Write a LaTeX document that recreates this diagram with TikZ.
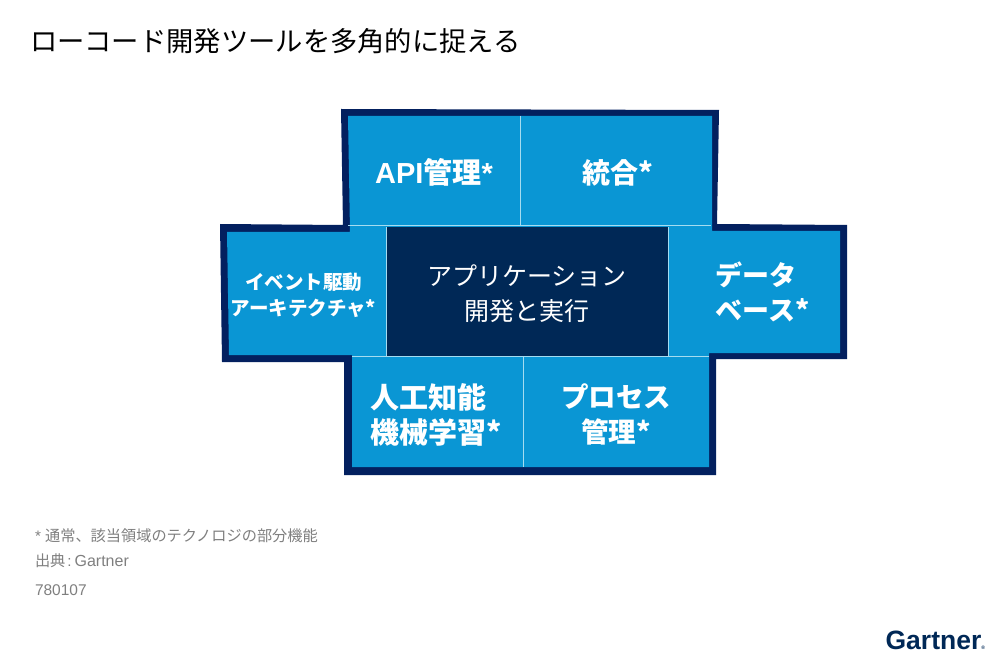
\documentclass[tikz,border=0pt]{standalone}
\usepackage{fontspec}
\setmainfont{Liberation Sans}
\newfontfamily\cjk{Noto Sans CJK JP}
\usetikzlibrary{positioning}
\definecolor{framenavy}{HTML}{03205F}
\definecolor{corenavy}{HTML}{002856}
\definecolor{panelblue}{HTML}{0A96D4}
\definecolor{sepblue}{HTML}{A5DCF0}
\definecolor{notegray}{HTML}{7F7F7F}
\newcommand{\fsz}[2]{\fontsize{#1}{#2}\selectfont}
\newcommand{\drop}[1]{\rule{0pt}{#1pt}}

\begin{document}
\begin{tikzpicture}[x=1pt,y=-1pt,inner sep=0pt,outer sep=0pt]
	  \tikzstyle{panel}=[text=white,align=center,minimum height=110pt]
	  \tikzstyle{sepline}=[draw=sepblue,line width=1pt]
	  \tikzstyle{note}=[text=notegray,anchor=west,font=\fsz{15.2}{17}]

	  \useasboundingbox (0,0) rectangle (1000,660);

	  \node[anchor=west,font=\fsz{27.3}{30}] (title) at (30,41) {\cjk ローコード開発ツールを多角的に捉える};

	  % frame and fill behind the panels
	  \fill[framenavy] (341,109) -- (719,110) -- (717,224) -- (847,225) -- (847,359) -- (716,359)
	  -- (716,475) -- (344,475) -- (344,362) -- (222,362) -- (220,224) -- (343,225) -- cycle;
	  \fill[panelblue] (348,116) -- (712,116) -- (712,231) -- (840,231) -- (840,353) -- (709,353)
	  -- (709,467) -- (352,467) -- (352,355) -- (229,355) -- (227,232) -- (350,232) -- cycle;

	  \node[fill=corenavy,text=white,align=center,minimum width=282pt,minimum height=129pt,
	  font=\fsz{25}{35}] (core) at (527,291.5)
	  {\drop{25}\cjk アプリケーション\\\cjk 開発と実行};

	  \node[panel,minimum width=159pt,minimum height=129pt,font=\fsz{19.5}{26}] (event) [left=0pt of core]
	  {\drop{25}\cjk\bfseries イベント駆動\hspace*{6pt}\\\cjk\bfseries アーキテクチャ*\hspace*{6pt}};
	  \node[panel,minimum width=172pt,minimum height=129pt,font=\fsz{27}{35},align=left] (data) [right=0pt of core]
	  {\hspace*{17pt}\cjk\bfseries データ\\\hspace*{17pt}\cjk\bfseries ベース*};

	  \node[panel,minimum width=172pt,font=\bfseries\fsz{29}{30}] (api) at (434,171) {\drop{28}API{\cjk\bfseries 管理}*};
	  \node[panel,minimum width=191pt,font=\fsz{28}{30}] (merge) [right=0pt of api] {\drop{28}\hspace*{4pt}\cjk\bfseries 統合*};

	  \node[panel,minimum width=171pt,minimum height=111pt,font=\fsz{29}{35},align=left] (aiml) at (437.5,411.5)
	  {\drop{31}\cjk\bfseries 人工知能\\\cjk\bfseries 機械学習*\hspace*{3pt}};
	  \node[panel,minimum width=186pt,minimum height=111pt,font=\fsz{27.5}{35}] (proc) [right=0pt of aiml]
	  {\drop{29}\cjk\bfseries プロセス\\\cjk\bfseries 管理*};

	  \draw[sepline] (api.north east) -- (api.south east);
	  \draw[sepline] (api.south west) -- (merge.south east);
	  \draw[sepline] (core.north west) -- (core.south west);
	  \draw[sepline] (core.north east) -- (core.south east);
	  \draw[sepline] (aiml.north west) -- (proc.north east);
	  \draw[sepline] (aiml.north east) -- (aiml.south east);

	  \node[note] (star) at (35,536) {* {\cjk 通常、該当領域のテクノロジの部分機能}};
	  \node[note] (source) at (35,561) {{\cjk 出典}\hspace*{2pt}:\hspace*{3pt}\fsz{16}{17}Gartner};
	  \node[note] (docid) at (35,590) {\fsz{15.5}{17}780107};

	  \node[anchor=east,text=corenavy,font=\bfseries\fsz{26.5}{28}] (logo) at (985,640) {Gartner{\fsz{5}{6}®}};
	\end{tikzpicture}
\end{document}
